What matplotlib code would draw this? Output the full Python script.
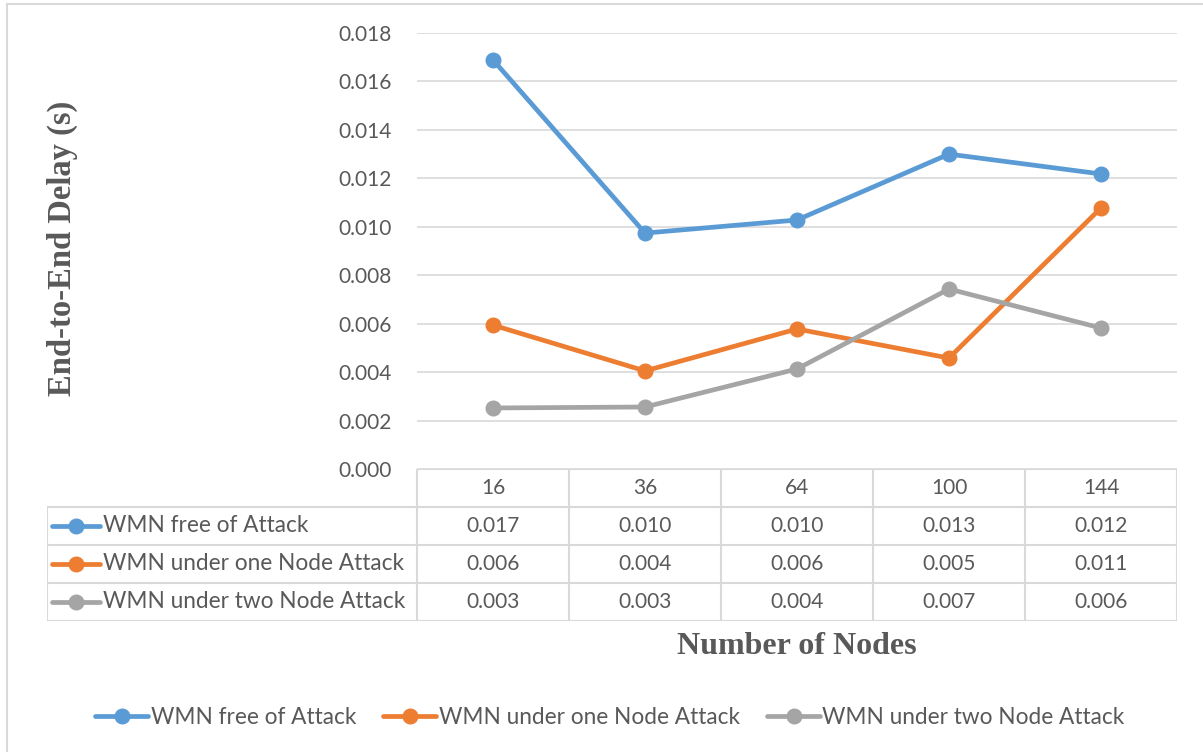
import matplotlib.pyplot as plt
from matplotlib.lines import Line2D

# Data
nodes = ['16', '36', '64', '100', '144']
series_names = ['WMN free of Attack', 'WMN under one Node Attack', 'WMN under two Node Attack']
free_attack = [0.01689, 0.00974, 0.01028, 0.01300, 0.01218]
one_node = [0.00594, 0.00405, 0.00578, 0.00458, 0.01078]
two_node = [0.00252, 0.00256, 0.00413, 0.00743, 0.00582]
colors = ['#5B9BD5', '#ED7D31', '#A5A5A5']
yticks = [0.000, 0.002, 0.004, 0.006, 0.008, 0.010, 0.012, 0.014, 0.016, 0.018]

series = [free_attack, one_node, two_node]

W, H = 1203, 752
text_col = '#595959'
grid_col = '#D9D9D9'
sans = ['Lato', 'DejaVu Sans']
fs = 15          # numbers
fs_lab = 16.3    # series names

fig = plt.figure(figsize=(W / 100, H / 100), dpi=100)

# Light border around chart area (top and left visible)
fig.add_artist(Line2D([7 / W, 7 / W], [0, 1 - 4 / H], color=grid_col, lw=1.5))
fig.add_artist(Line2D([7 / W, 1], [1 - 4 / H, 1 - 4 / H], color=grid_col, lw=1.5))

# Main plot area
ax = fig.add_axes([417 / W, 1 - 469 / H, 760 / W, 436 / H])
x = list(range(len(nodes)))
for vals, name, c in zip(series, series_names, colors):
    ax.plot(x, vals, color=c, lw=3.4, marker='o', ms=10.5, label=name,
            solid_capstyle='round')
ax.set_xlim(-0.5, len(nodes) - 0.5)
ax.set_ylim(0, 0.018)
ax.set_yticks(yticks)
ax.set_yticklabels([f'{t:.3f}' for t in yticks], fontfamily=sans,
                   fontsize=fs, color=text_col)
ax.tick_params(axis='y', length=0, pad=18)
ax.set_xticks([])
ax.grid(axis='y', color=grid_col, lw=1.2)
ax.set_axisbelow(True)
for s in ax.spines.values():
    s.set_visible(False)

fig.text(62 / W, 1 - 248 / H, 'End-to-End Delay (s)', rotation=90,
         ha='center', va='center', fontfamily='Liberation Serif',
         fontweight='bold', fontsize=23.5, color=text_col)
fig.text(797 / W, 1 - 646 / H, 'Number of Nodes', ha='center', va='center',
         fontfamily='Liberation Serif', fontweight='bold', fontsize=23,
         color=text_col)

# Data table below the plot
left_w = (417 - 47) / 152
tab = fig.add_axes([47 / W, 1 - 621 / H, (1177 - 47) / W, (621 - 469) / H])
tab.set_xlim(-0.5 - left_w, len(nodes) - 0.5)
tab.set_ylim(0, 4)
tab.axis('off')
xl = -0.5 - left_w
# horizontal lines
tab.plot([-0.5, len(nodes) - 0.5], [4, 4], color=grid_col, lw=1.5)
for r in range(4):
    tab.plot([xl, len(nodes) - 0.5], [r, r], color=grid_col, lw=1.5)
# vertical lines
for c in range(len(nodes) + 1):
    tab.plot([c - 0.5, c - 0.5], [0, 4], color=grid_col, lw=1.5)
tab.plot([xl, xl], [0, 3], color=grid_col, lw=1.5)

for i, n in enumerate(nodes):
    tab.text(i, 3.5, n, ha='center', va='center', fontfamily=sans,
             fontsize=fs, color=text_col)
for r, (vals, name, c) in enumerate(zip(series, series_names, colors)):
    yc = 2.5 - r
    for i, v in enumerate(vals):
        tab.text(i, yc, f'{v:.3f}', ha='center', va='center', fontfamily=sans,
                 fontsize=fs, color=text_col)
    tab.plot([xl + 5 / 152, xl + 53 / 152], [yc, yc], color=c, lw=3.4,
             solid_capstyle='round')
    tab.plot([xl + 29 / 152], [yc], color=c, marker='o', ms=10.5)
    tab.text(xl + 56 / 152, yc, name, ha='left', va='center', fontfamily=sans,
             fontsize=fs_lab, color=text_col)

# Bottom legend
handles, labels = ax.get_legend_handles_labels()
fig.legend(handles, labels, loc='center', bbox_to_anchor=(610 / W, 1 - 717 / H),
           ncol=3, frameon=False, handlelength=2.35, handletextpad=0.1,
           columnspacing=1.2, prop={'family': sans, 'size': fs_lab},
           labelcolor=text_col)

fig.savefig('out.png', dpi=100)
